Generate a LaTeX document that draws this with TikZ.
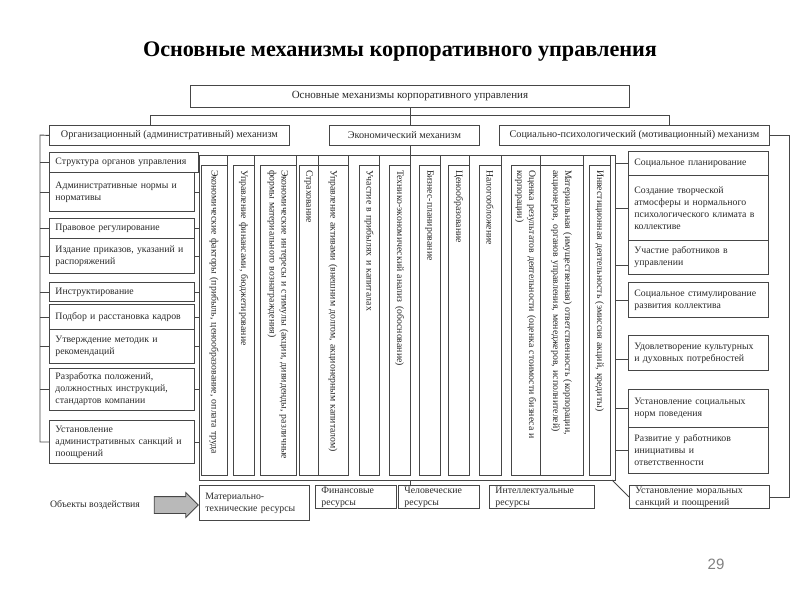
\documentclass[tikz,border=0pt]{standalone}
\usepackage{fontspec}
\setmainfont{Liberation Serif}
\newfontfamily\numfont{Liberation Sans}
\usepackage{tikz}
\usetikzlibrary{shapes.arrows}
\definecolor{lnG}{RGB}{70,70,70}
\definecolor{txG}{RGB}{40,40,40}
\definecolor{arG}{RGB}{185,185,185}
\newcommand{\bxfont}{\fontsize{9.8}{12}\selectfont}
\newcommand{\hdfont}{\fontsize{10.2}{12}\selectfont}
\tikzset{
  ln/.style={draw=lnG, line width=0.9pt},
  hbox/.style={ln, anchor=north west, inner sep=0pt, minimum width=#1, minimum height=20pt, font=\hdfont, text=txG},
  tbox/.style={ln, anchor=north west, text width=#1, inner xsep=6pt, inner ysep=1pt, align=left, font=\bxfont, text=txG},
  vbox/.style={ln, rotate=-90, text width=300pt, inner xsep=5pt, inner ysep=0pt, minimum height=#1, align=left, font=\bxfont, text=txG}}

\begin{document}
\begin{tikzpicture}[x=1pt, y=-1pt]
  \useasboundingbox (0,0) rectangle (800,600);
  \node[font=\fontsize{22.2}{25}\selectfont\bfseries] (title) at (400,52) {Основные механизмы корпоративного управления};
  % upper level
  \node[hbox=439pt, minimum height=22pt, font=\fontsize{11}{13}\selectfont] (top) at (190,85) {Основные механизмы корпоративного управления};
  \node[hbox=240pt] (org) at (49,125) {Организационный (административный) механизм};
  \node[hbox=150pt] (eco) at (329,125) {Экономический механизм};
  \node[hbox=270pt] (soc) at (499,125) {Социально-психологический (мотивационный) механизм};
  % organisational column
  \node[tbox=137pt, minimum height=20pt] (l1) at (49,152) {Структура органов управления};
  \node[tbox=133pt, minimum height=39pt] (l2) at (49,172) {Административные нормы и\\нормативы};
  \node[tbox=133pt, minimum height=20pt] (l3) at (49,218) {Правовое регулирование};
  \node[tbox=133pt, minimum height=35pt] (l4) at (49,238) {Издание приказов, указаний и\\распоряжений};
  \node[tbox=133pt, minimum height=19pt] (l5) at (49,282) {Инструктирование};
  \node[tbox=133pt, minimum height=25pt] (l6) at (49,304) {Подбор и расстановка кадров};
  \node[tbox=133pt, minimum height=34pt] (l7) at (49,329) {Утверждение методик и\\рекомендаций};
  \node[tbox=133pt, minimum height=42pt] (l8) at (49,368) {Разработка положений,\\должностных инструкций,\\стандартов компании};
  \node[tbox=133pt, minimum height=43pt] (l9) at (49,420) {Установление\\административных санкций и\\поощрений};
  % economic column
  \node[vbox=26pt] (v1) at (214,320) {Экономические факторы (прибыль, ценообразование, оплата труда};
  \node[vbox=21pt] (v2) at (243.5,320) {Управление финансами, бюджетирование};
  \node[vbox=36pt] (v3) at (278,320) {Экономические интересы и стимулы (акции, дивиденды, различные\\формы материального вознаграждения)};
  \node[vbox=19pt] (v4) at (308.5,320) {Страхование};
  \node[vbox=30pt] (v5) at (333,320) {Управление активами (внешним долгом, акционерным капиталом)};
  \node[vbox=20pt] (v6) at (369,320) {Участие в прибылях и капиталах};
  \node[vbox=21pt] (v7) at (399.5,320) {Технико-экономический анализ (обоснование)};
  \node[vbox=21pt] (v8) at (429.5,320) {Бизнес-планирование};
  \node[vbox=21pt] (v9) at (458.5,320) {Ценообразование};
  \node[vbox=22pt] (v10) at (490,320) {Налогообложение};
  \node[vbox=29pt] (v11) at (525.5,320) {Оценка результатов деятельности (оценка стоимости бизнеса и\\корпорации)};
  \node[vbox=43pt] (v12) at (561.5,320) {Материальная (имущественная) ответственность (корпорации,\\акционеров, органов управления, менеджеров, исполнителей)};
  \node[vbox=21pt] (v13) at (599.5,320) {Инвестиционная деятельность (эмиссия акций, кредиты)};
  % social column
  \node[tbox=128pt, minimum height=24pt] (r1) at (628,151) {Социальное планирование};
  \node[tbox=128pt, minimum height=65pt] (r2) at (628,175) {Создание творческой\\атмосферы и нормального\\психологического климата в\\коллективе};
  \node[tbox=128pt, minimum height=34pt] (r3) at (628,240) {Участие работников в\\управлении};
  \node[tbox=128pt, minimum height=35pt] (r4) at (628,282) {Социальное стимулирование\\развития коллектива};
  \node[tbox=128pt, minimum height=35pt] (r5) at (628,335) {Удовлетворение культурных\\и духовных потребностей};
  \node[tbox=128pt, minimum height=38pt] (r6) at (628,389) {Установление социальных\\норм поведения};
  \node[tbox=128pt, minimum height=46pt] (r7) at (628,427) {Развитие у работников\\инициативы и\\ответственности};
  \node[tbox=128pt, minimum height=23pt] (r8) at (629,485) {Установление моральных\\санкций и поощрений};
  % objects
  \node[tbox=98pt, minimum height=35pt] (res1) at (199,485) {Материально-\\технические ресурсы};
  \node[tbox=69pt, minimum height=23pt] (res2) at (315,485) {Финансовые\\ресурсы};
  \node[tbox=69pt, minimum height=23pt] (res3) at (398,485) {Человеческие\\ресурсы};
  \node[tbox=93pt, minimum height=23pt] (res4) at (489,485) {Интеллектуальные\\ресурсы};
  \node[font=\bxfont, text=txG] (obj) at (95,505) {Объекты воздействия};
  \node[single arrow, draw=lnG, fill=arG, line width=0.8pt, minimum height=44pt, inner xsep=0pt, inner ysep=8pt,
    single arrow head extend=4pt] (arr) at (172,505) {};
  \node[font=\numfont\fontsize{15}{16}\selectfont, text=gray] (pg) at (716,564) {29};
  % connectors
  \coordinate (tl) at (199,155);
  \coordinate (tr) at (615,155);
  \coordinate (bl) at (199,480);
  \coordinate (br) at (615,480);
  \coordinate (lb) at (40,135);
  \draw[ln] (tl) -- (tr) -- (br) -- (bl) -- cycle;
  \draw[ln] (top.south) -- (top.south |- eco.north);
  \draw[ln] ([xshift=-19pt]org.north) -- ++(0,-10) -| ([xshift=35pt]soc.north);
  \draw[ln] (top.south |- eco.south) -- (top.south |- tl);
  \draw[ln] (v1.north west) -- (v1.north west |- tl) (v2.north west) -- (v2.north west |- tl)
    (v3.north west) -- (v3.north west |- tl) (v4.north west) -- (v4.north west |- tl)
    (v5.north west) -- (v5.north west |- tl) (v6.north west) -- (v6.north west |- tl)
    (v7.north west) -- (v7.north west |- tl) (v8.north west) -- (v8.north west |- tl)
    (v9.north west) -- (v9.north west |- tl) (v10.north west) -- (v10.north west |- tl)
    (v11.north west) -- (v11.north west |- tl) (v12.north west) -- (v12.north west |- tl)
    (v13.north west) -- (v13.north west |- tl);
  \draw[ln] (org.west) -- (lb) |- (l9.west);
  \draw[ln] (l1.west) -- (l1.west -| lb) (l2.west) -- (l2.west -| lb) (l3.west) -- (l3.west -| lb)
    (l4.west) -- (l4.west -| lb) (l5.west) -- (l5.west -| lb) (l6.west) -- (l6.west -| lb)
    (l7.west) -- (l7.west -| lb) (l8.west) -- (l8.west -| lb);
  \draw[ln] (l2.east) -- (l2.east -| tl) (l3.east) -- (l3.east -| tl) (l4.east) -- (l4.east -| tl)
    (l5.east) -- (l5.east -| tl) (l6.east) -- (l6.east -| tl) (l7.east) -- (l7.east -| tl)
    (l8.east) -- (l8.east -| tl) (l9.east) -- (l9.east -| tl);
  \draw[ln] (r1.west) -- (r1.west -| tr) (r2.west) -- (r2.west -| tr) ([yshift=-8pt]r3.west) -- ([yshift=-8pt]r3.west -| tr)
    (r4.west) -- (r4.west -| tr) ([yshift=-6pt]r5.west) -- ([yshift=-6pt]r5.west -| tr)
    (r6.west) -- (r6.west -| tr) (r7.west) -- (r7.west -| tr);
  \draw[ln] (soc.east) -- ++(20,0) |- (r8.east);
  \draw[ln] (top.south |- res3.north) -- (top.south |- bl);
  \draw[ln] ([xshift=-3pt]br) -- (r8.west);
\end{tikzpicture}
\end{document}
